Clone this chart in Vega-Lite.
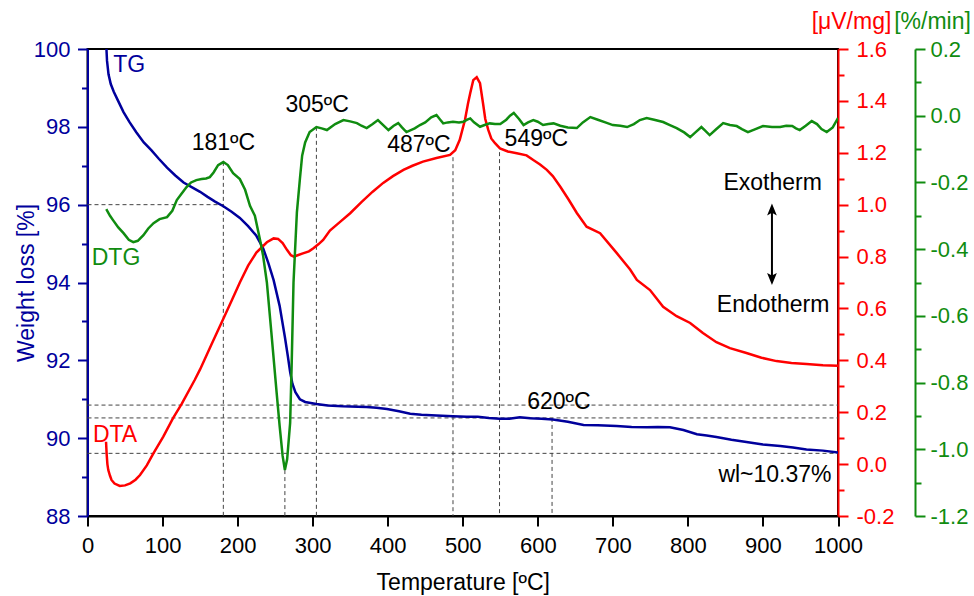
{
  "$schema": "https://vega.github.io/schema/vega-lite/v6.json",
  "width": 750.5,
  "height": 467,
  "autosize": "none",
  "padding": {"left": 87.5, "top": 49, "right": 136, "bottom": 80},
  "background": "white",
  "config": {
    "view": {"stroke": "black", "strokeWidth": 2},
    "font": "Liberation Sans",
    "axis": {
      "labelFont": "Liberation Sans",
      "titleFont": "Liberation Sans",
      "labelFontSize": 22,
      "titleFontSize": 23,
      "titleFontWeight": "normal",
      "grid": false,
      "tickWidth": 2,
      "domainWidth": 2,
      "zindex": 1,
      "labelOverlap": false,
      "labelBound": false,
      "labelFlush": false
    }
  },
  "datasets": {
    "tg": [
      {"T": 25, "w": 100.1}, {"T": 26, "w": 99.7}, {"T": 28, "w": 99.35}, {"T": 31, "w": 99.1},
      {"T": 35, "w": 98.9}, {"T": 40, "w": 98.7}, {"T": 48, "w": 98.38}, {"T": 56, "w": 98.12},
      {"T": 65, "w": 97.86}, {"T": 75, "w": 97.6}, {"T": 85, "w": 97.4}, {"T": 95, "w": 97.18},
      {"T": 106, "w": 96.95}, {"T": 117, "w": 96.75}, {"T": 128, "w": 96.57}, {"T": 140, "w": 96.44},
      {"T": 150, "w": 96.33}, {"T": 160, "w": 96.2}, {"T": 170, "w": 96.08}, {"T": 181, "w": 95.96},
      {"T": 192, "w": 95.82}, {"T": 203, "w": 95.66}, {"T": 214, "w": 95.45}, {"T": 225, "w": 95.2},
      {"T": 234, "w": 94.88}, {"T": 241, "w": 94.5}, {"T": 248, "w": 94.06}, {"T": 256, "w": 93.4},
      {"T": 263, "w": 92.6}, {"T": 267, "w": 92.1}, {"T": 270, "w": 91.7}, {"T": 273, "w": 91.4},
      {"T": 277, "w": 91.18}, {"T": 283, "w": 91.0}, {"T": 290, "w": 90.93}, {"T": 305, "w": 90.88},
      {"T": 320, "w": 90.84}, {"T": 340, "w": 90.82}, {"T": 360, "w": 90.81}, {"T": 372, "w": 90.8},
      {"T": 385, "w": 90.78}, {"T": 399, "w": 90.75}, {"T": 415, "w": 90.69}, {"T": 430, "w": 90.63},
      {"T": 445, "w": 90.6}, {"T": 465, "w": 90.58}, {"T": 487, "w": 90.56}, {"T": 505, "w": 90.55},
      {"T": 520, "w": 90.55}, {"T": 535, "w": 90.52}, {"T": 549, "w": 90.5}, {"T": 562, "w": 90.5},
      {"T": 576, "w": 90.54}, {"T": 590, "w": 90.51}, {"T": 605, "w": 90.5}, {"T": 620, "w": 90.48},
      {"T": 640, "w": 90.42}, {"T": 661, "w": 90.34}, {"T": 680, "w": 90.33}, {"T": 705, "w": 90.31},
      {"T": 725, "w": 90.29}, {"T": 745, "w": 90.28}, {"T": 760, "w": 90.29}, {"T": 776, "w": 90.28},
      {"T": 794, "w": 90.21}, {"T": 812, "w": 90.1}, {"T": 825, "w": 90.07}, {"T": 838, "w": 90.03},
      {"T": 858, "w": 89.96}, {"T": 878, "w": 89.9}, {"T": 900, "w": 89.84}, {"T": 923, "w": 89.8},
      {"T": 940, "w": 89.76}, {"T": 958, "w": 89.71}, {"T": 980, "w": 89.68}, {"T": 1000, "w": 89.63}
    ],
    "dta": [
      {"T": 24.7, "v": 0.086}, {"T": 25.5, "v": 0.04}, {"T": 26.5, "v": 0.0}, {"T": 27.7, "v": -0.023},
      {"T": 30, "v": -0.045}, {"T": 32, "v": -0.061}, {"T": 36, "v": -0.075}, {"T": 43, "v": -0.084},
      {"T": 50, "v": -0.082}, {"T": 57, "v": -0.074}, {"T": 64, "v": -0.06}, {"T": 70, "v": -0.042},
      {"T": 79, "v": -0.005}, {"T": 88, "v": 0.042}, {"T": 101, "v": 0.106}, {"T": 114, "v": 0.177},
      {"T": 125.5, "v": 0.232}, {"T": 143, "v": 0.325}, {"T": 150, "v": 0.365}, {"T": 165, "v": 0.46},
      {"T": 181, "v": 0.56}, {"T": 192, "v": 0.63}, {"T": 203, "v": 0.7}, {"T": 214, "v": 0.765},
      {"T": 225, "v": 0.815}, {"T": 239, "v": 0.855}, {"T": 248, "v": 0.87}, {"T": 254, "v": 0.868},
      {"T": 260, "v": 0.852}, {"T": 266, "v": 0.825}, {"T": 271, "v": 0.805}, {"T": 275, "v": 0.8},
      {"T": 280, "v": 0.805}, {"T": 287, "v": 0.812}, {"T": 295, "v": 0.82}, {"T": 301, "v": 0.832},
      {"T": 308, "v": 0.848}, {"T": 314, "v": 0.864}, {"T": 323, "v": 0.9}, {"T": 335, "v": 0.93},
      {"T": 350, "v": 0.967}, {"T": 365, "v": 1.01}, {"T": 380, "v": 1.05}, {"T": 394, "v": 1.084},
      {"T": 407, "v": 1.11}, {"T": 421, "v": 1.134}, {"T": 433, "v": 1.15}, {"T": 447, "v": 1.166},
      {"T": 465, "v": 1.18}, {"T": 483, "v": 1.192}, {"T": 490, "v": 1.21}, {"T": 496, "v": 1.25},
      {"T": 503, "v": 1.327}, {"T": 507, "v": 1.39}, {"T": 510, "v": 1.43}, {"T": 514, "v": 1.48},
      {"T": 518.6, "v": 1.491}, {"T": 523, "v": 1.468}, {"T": 527, "v": 1.391}, {"T": 530, "v": 1.33},
      {"T": 534, "v": 1.288}, {"T": 538, "v": 1.255}, {"T": 543, "v": 1.237}, {"T": 549.6, "v": 1.217},
      {"T": 560, "v": 1.205}, {"T": 572, "v": 1.198}, {"T": 585, "v": 1.19}, {"T": 594, "v": 1.172},
      {"T": 603, "v": 1.155}, {"T": 612, "v": 1.134}, {"T": 620, "v": 1.11}, {"T": 630, "v": 1.069},
      {"T": 641, "v": 1.02}, {"T": 652, "v": 0.968}, {"T": 665, "v": 0.915}, {"T": 683, "v": 0.89},
      {"T": 705, "v": 0.814}, {"T": 723, "v": 0.75}, {"T": 732, "v": 0.71}, {"T": 749.5, "v": 0.671},
      {"T": 767, "v": 0.606}, {"T": 785, "v": 0.57}, {"T": 803, "v": 0.544}, {"T": 820, "v": 0.505},
      {"T": 838, "v": 0.47}, {"T": 856, "v": 0.447}, {"T": 878, "v": 0.428}, {"T": 898, "v": 0.41},
      {"T": 918, "v": 0.397}, {"T": 938, "v": 0.39}, {"T": 958, "v": 0.386}, {"T": 980, "v": 0.381},
      {"T": 1000, "v": 0.379}
    ],
    "dtg": [
      {"T": 25, "g": -0.28}, {"T": 30, "g": -0.3}, {"T": 34, "g": -0.313}, {"T": 41, "g": -0.335},
      {"T": 48, "g": -0.352}, {"T": 55, "g": -0.372}, {"T": 61, "g": -0.379}, {"T": 67, "g": -0.375},
      {"T": 74.5, "g": -0.358}, {"T": 81, "g": -0.338}, {"T": 88, "g": -0.322}, {"T": 96, "g": -0.31},
      {"T": 106, "g": -0.304}, {"T": 113, "g": -0.285}, {"T": 119, "g": -0.253}, {"T": 126, "g": -0.232},
      {"T": 132, "g": -0.214}, {"T": 138, "g": -0.2}, {"T": 145, "g": -0.193}, {"T": 152, "g": -0.19},
      {"T": 158, "g": -0.188}, {"T": 163, "g": -0.184}, {"T": 168, "g": -0.17}, {"T": 174, "g": -0.148},
      {"T": 181, "g": -0.139}, {"T": 187, "g": -0.148}, {"T": 194, "g": -0.172}, {"T": 203, "g": -0.19},
      {"T": 210, "g": -0.222}, {"T": 216.5, "g": -0.27}, {"T": 223, "g": -0.3}, {"T": 230, "g": -0.373},
      {"T": 234, "g": -0.42}, {"T": 239, "g": -0.5}, {"T": 245, "g": -0.65}, {"T": 252, "g": -0.83},
      {"T": 256, "g": -0.93}, {"T": 260, "g": -1.02}, {"T": 263, "g": -1.062}, {"T": 266, "g": -1.03},
      {"T": 270, "g": -0.921}, {"T": 272, "g": -0.75}, {"T": 274.5, "g": -0.5}, {"T": 279, "g": -0.29},
      {"T": 283, "g": -0.19}, {"T": 286, "g": -0.12}, {"T": 290, "g": -0.08}, {"T": 296, "g": -0.049},
      {"T": 305, "g": -0.034}, {"T": 312, "g": -0.038}, {"T": 319, "g": -0.043}, {"T": 330, "g": -0.025},
      {"T": 341, "g": -0.013}, {"T": 350, "g": -0.017}, {"T": 359, "g": -0.022}, {"T": 365, "g": -0.03},
      {"T": 372, "g": -0.037}, {"T": 380, "g": -0.025}, {"T": 387, "g": -0.013}, {"T": 394, "g": -0.028},
      {"T": 401, "g": -0.043}, {"T": 408, "g": -0.03}, {"T": 414, "g": -0.022}, {"T": 419, "g": -0.035},
      {"T": 425, "g": -0.049}, {"T": 436, "g": -0.038}, {"T": 443, "g": -0.028}, {"T": 450, "g": -0.02},
      {"T": 458, "g": -0.005}, {"T": 465, "g": 0.002}, {"T": 470, "g": -0.012}, {"T": 474, "g": -0.023},
      {"T": 480, "g": -0.02}, {"T": 487, "g": -0.018}, {"T": 495, "g": -0.02}, {"T": 501, "g": -0.018},
      {"T": 506, "g": -0.012}, {"T": 510, "g": -0.008}, {"T": 515, "g": -0.02}, {"T": 523, "g": -0.033},
      {"T": 530, "g": -0.027}, {"T": 536, "g": -0.023}, {"T": 543, "g": -0.025}, {"T": 550, "g": -0.025},
      {"T": 558, "g": -0.012}, {"T": 563, "g": 0.0}, {"T": 568, "g": 0.008}, {"T": 575, "g": -0.01},
      {"T": 581, "g": -0.028}, {"T": 587, "g": -0.02}, {"T": 594, "g": -0.013}, {"T": 600, "g": -0.018},
      {"T": 607, "g": -0.028}, {"T": 614, "g": -0.025}, {"T": 621, "g": -0.023}, {"T": 630, "g": -0.03},
      {"T": 640, "g": -0.035}, {"T": 652, "g": -0.037}, {"T": 660, "g": -0.02}, {"T": 670, "g": -0.004},
      {"T": 680, "g": -0.012}, {"T": 690, "g": -0.02}, {"T": 700, "g": -0.028}, {"T": 710, "g": -0.03},
      {"T": 719, "g": -0.034}, {"T": 728, "g": -0.025}, {"T": 736, "g": -0.013}, {"T": 745, "g": -0.007},
      {"T": 755, "g": -0.012}, {"T": 767, "g": -0.019}, {"T": 776, "g": -0.028}, {"T": 785, "g": -0.037},
      {"T": 795, "g": -0.05}, {"T": 803, "g": -0.064}, {"T": 810, "g": -0.05}, {"T": 818, "g": -0.034},
      {"T": 823, "g": -0.045}, {"T": 829, "g": -0.058}, {"T": 838, "g": -0.04}, {"T": 847, "g": -0.022},
      {"T": 856, "g": -0.028}, {"T": 865, "g": -0.031}, {"T": 872, "g": -0.04}, {"T": 880, "g": -0.049},
      {"T": 890, "g": -0.04}, {"T": 900, "g": -0.031}, {"T": 912, "g": -0.034}, {"T": 923, "g": -0.034},
      {"T": 931, "g": -0.03}, {"T": 939, "g": -0.031}, {"T": 944, "g": -0.038}, {"T": 949, "g": -0.043},
      {"T": 957, "g": -0.03}, {"T": 965, "g": -0.016}, {"T": 972, "g": -0.025}, {"T": 978, "g": -0.04},
      {"T": 985, "g": -0.049}, {"T": 993, "g": -0.035}, {"T": 1000, "g": -0.007}
    ],
    "hlines": [
      {"w": 96, "T0": 0, "T1": 181},
      {"w": 90.85, "T0": 0, "T1": 1000},
      {"w": 90.52, "T0": 0, "T1": 1000},
      {"w": 89.61, "T0": 0, "T1": 1000}
    ],
    "vlines": [
      {"T": 181, "wtop": 97.1, "wbot": 88},
      {"T": 263, "wtop": 89.18, "wbot": 88},
      {"T": 305, "wtop": 98.0, "wbot": 88},
      {"T": 487, "wtop": 97.22, "wbot": 88},
      {"T": 549, "wtop": 97.35, "wbot": 88},
      {"T": 619, "wtop": 90.52, "wbot": 88}
    ],
    "labels": [
      {"T": 55.5, "w": 99.59, "text": "TG", "kind": "TG"},
      {"T": 38, "w": 94.62, "text": "DTG", "kind": "DTG"},
      {"T": 36.7, "w": 90.08, "text": "DTA", "kind": "DTA"},
      {"T": 181, "w": 97.58, "text": "181ºC", "kind": "note"},
      {"T": 306, "w": 98.56, "text": "305ºC", "kind": "note"},
      {"T": 441.5, "w": 97.53, "text": "487ºC", "kind": "note"},
      {"T": 598, "w": 97.7, "text": "549ºC", "kind": "note"},
      {"T": 628, "w": 90.94, "text": "620ºC", "kind": "note"},
      {"T": 913, "w": 96.55, "text": "Exotherm", "kind": "note"},
      {"T": 913.5, "w": 93.42, "text": "Endotherm", "kind": "note"},
      {"T": 916, "w": 89.05, "text": "wl~10.37%", "kind": "note"}
    ],
    "arrow": [
      {"T": 912, "wtop": 95.84, "wbot": 94.13}
    ],
    "heads": [
      {"T": 912, "w": 95.84, "dir": "up"},
      {"T": 912, "w": 94.13, "dir": "down"}
    ]
  },
  "layer": [
    {
      "data": {"name": "hlines"},
      "mark": {"type": "rule", "color": "#444444", "strokeWidth": 1, "strokeDash": [4, 3]},
      "encoding": {
        "x": {
          "field": "T0", "type": "quantitative",
          "scale": {"domain": [0, 1000], "nice": false},
          "axis": {
            "orient": "bottom",
            "title": "Temperature [ºC]",
            "format": "d",
            "values": [0, 50, 100, 150, 200, 250, 300, 350, 400, 450, 500, 550, 600, 650, 700, 750, 800, 850, 900, 950, 1000],
            "labelExpr": "datum.value % 100 === 0 ? format(datum.value, 'd') : ''",
            "tickSize": {"condition": {"test": "datum.value % 100 === 0", "value": 10}, "value": 6},
            "labelPadding": 9,
            "titleY": 73.5, "titleBaseline": "alphabetic",
            "domainColor": "black", "tickColor": "black", "labelColor": "black", "titleColor": "black"
          }
        },
        "x2": {"field": "T1"},
        "y": {"field": "w", "type": "quantitative", "scale": {"domain": [88, 100], "nice": false, "zero": false}, "axis": null}
      }
    },
    {
      "data": {"name": "vlines"},
      "mark": {"type": "rule", "color": "#444444", "strokeWidth": 1, "strokeDash": [4, 3]},
      "encoding": {
        "x": {"field": "T", "type": "quantitative", "scale": {"domain": [0, 1000], "nice": false}},
        "y": {"field": "wtop", "type": "quantitative", "scale": {"domain": [88, 100], "nice": false, "zero": false}, "axis": null},
        "y2": {"field": "wbot"}
      }
    },
    {
      "data": {"name": "tg"},
      "mark": {"type": "line", "color": "#00009c", "strokeWidth": 2.5, "clip": true},
      "encoding": {
        "x": {"field": "T", "type": "quantitative", "scale": {"domain": [0, 1000], "nice": false}},
        "y": {
          "field": "w", "type": "quantitative",
          "scale": {"domain": [88, 100], "nice": false, "zero": false},
          "axis": {
            "orient": "left",
            "title": "Weight loss [%]",
            "values": [88, 89, 90, 91, 92, 93, 94, 95, 96, 97, 98, 99, 100],
            "labelExpr": "datum.value % 2 === 0 ? datum.label : ''",
            "tickSize": {"condition": {"test": "datum.value % 2 === 0", "value": 10}, "value": 6},
            "labelPadding": 7.5,
            "titleX": -54.5, "titleY": 233.5, "titleAlign": "center", "titleBaseline": "alphabetic",
            "domainColor": "#00009c", "tickColor": "#00009c", "labelColor": "#00009c", "titleColor": "#00009c"
          }
        }
      }
    },
    {
      "data": {"name": "dta"},
      "mark": {"type": "line", "color": "#ff0000", "strokeWidth": 2.5, "clip": true},
      "encoding": {
        "x": {"field": "T", "type": "quantitative", "scale": {"domain": [0, 1000], "nice": false}},
        "y": {
          "field": "v", "type": "quantitative",
          "scale": {"domain": [-0.2, 1.6], "nice": false, "zero": false},
          "axis": {
            "orient": "right",
            "title": "[μV/mg]",
            "titleAngle": 0, "titleX": 13, "titleY": -21, "titleAlign": "center", "titleBaseline": "alphabetic",
            "values": [-0.2, -0.1, 0, 0.1, 0.2, 0.3, 0.4, 0.5, 0.6, 0.7, 0.8, 0.9, 1, 1.1, 1.2, 1.3, 1.4, 1.5, 1.6],
            "labelExpr": "abs(round(datum.value*10)) % 2 === 0 ? (datum.value < -0.001 ? '-' : '') + format(abs(datum.value), '.1f') : ''",
            "tickSize": {"condition": {"test": "abs(round(datum.value*10)) % 2 === 0", "value": 10}, "value": 6},
            "labelPadding": 8,
            "domainColor": "#ff0000", "tickColor": "#ff0000", "labelColor": "#ff0000", "titleColor": "#ff0000"
          }
        }
      }
    },
    {
      "data": {"name": "dtg"},
      "mark": {"type": "line", "color": "#108c10", "strokeWidth": 2.5, "clip": true},
      "encoding": {
        "x": {"field": "T", "type": "quantitative", "scale": {"domain": [0, 1000], "nice": false}},
        "y": {
          "field": "g", "type": "quantitative",
          "scale": {"domain": [-1.2, 0.2], "nice": false, "zero": false},
          "axis": {
            "orient": "right",
            "offset": 77,
            "title": "[%/min]",
            "titleAngle": 0, "titleX": 17, "titleY": -21, "titleAlign": "center", "titleBaseline": "alphabetic",
            "values": [-1.2, -1.1, -1, -0.9, -0.8, -0.7, -0.6, -0.5, -0.4, -0.3, -0.2, -0.1, 0, 0.1, 0.2],
            "labelExpr": "abs(round(datum.value*10)) % 2 === 0 ? (datum.value < -0.001 ? '-' : '') + format(abs(datum.value), '.1f') : ''",
            "tickSize": {"condition": {"test": "abs(round(datum.value*10)) % 2 === 0", "value": 10}, "value": 6},
            "labelPadding": 5,
            "domainColor": "#108c10", "tickColor": "#108c10", "labelColor": "#108c10", "titleColor": "#108c10"
          }
        }
      }
    },
    {
      "data": {"name": "labels"},
      "mark": {"type": "text", "fontSize": 23, "font": "Liberation Sans", "align": "center", "baseline": "middle"},
      "encoding": {
        "x": {"field": "T", "type": "quantitative", "scale": {"domain": [0, 1000], "nice": false}},
        "y": {"field": "w", "type": "quantitative", "scale": {"domain": [88, 100], "nice": false, "zero": false}, "axis": null},
        "text": {"field": "text"},
        "color": {"field": "kind", "type": "nominal", "scale": {"domain": ["TG", "DTG", "DTA", "note"], "range": ["#00009c", "#108c10", "#ff0000", "#000000"]}, "legend": null}
      }
    },
    {
      "data": {"name": "arrow"},
      "mark": {"type": "rule", "color": "#000000", "strokeWidth": 2},
      "encoding": {
        "x": {"field": "T", "type": "quantitative", "scale": {"domain": [0, 1000], "nice": false}},
        "y": {"field": "wtop", "type": "quantitative", "scale": {"domain": [88, 100], "nice": false, "zero": false}, "axis": null},
        "y2": {"field": "wbot"}
      }
    },
    {
      "data": {"name": "heads"},
      "mark": {"type": "point", "filled": true, "color": "#000000", "opacity": 1, "size": 225},
      "encoding": {
        "x": {"field": "T", "type": "quantitative", "scale": {"domain": [0, 1000], "nice": false}},
        "y": {"field": "w", "type": "quantitative", "scale": {"domain": [88, 100], "nice": false, "zero": false}, "axis": null},
        "shape": {"field": "dir", "type": "nominal", "scale": {"domain": ["up", "down"], "range": ["M0,-1L0.65,0.6L0,0.25L-0.65,0.6Z", "M0,1L0.65,-0.6L0,-0.25L-0.65,-0.6Z"]}, "legend": null}
      }
    }
  ],
  "resolve": {"scale": {"y": "independent"}}
}
